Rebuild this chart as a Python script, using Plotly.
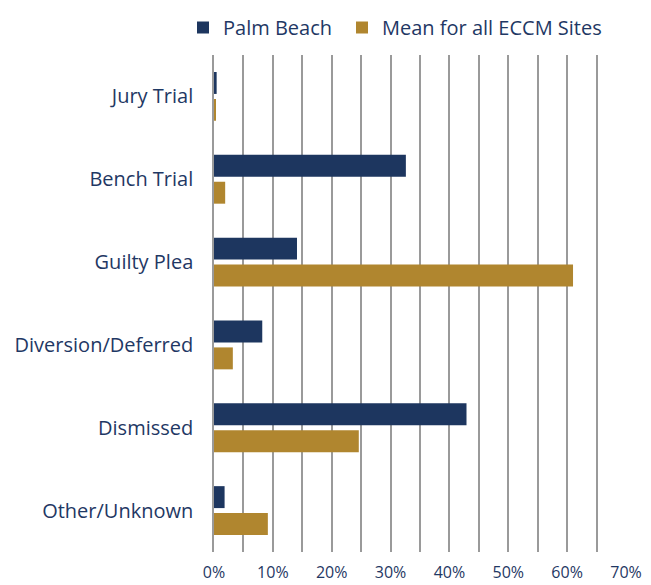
import plotly.graph_objects as go

# ── Data ──────────────────────────────────────────────────────────────────────
categories = ["Jury Trial", "Bench Trial", "Guilty Plea",
              "Diversion/Deferred", "Dismissed", "Other/Unknown"]
palm_beach = [0.45, 32.6, 14.1, 8.2, 42.9, 1.8]
eccm_mean  = [0.3, 1.9, 61.0, 3.2, 24.6, 9.15]

NAVY = "#1D365F"
GOLD = "#B0862F"
TEXT = "#1F3864"
GRID = "#9a9a9a"

# page body has an 8px margin, so the figure is 8px smaller than the window
W, H = 643, 577

# ── Plot ──────────────────────────────────────────────────────────────────────
fig = go.Figure()

fig.add_trace(go.Bar(
    y=categories, x=palm_beach, orientation="h",
    name="Palm Beach", marker=dict(color=NAVY, line=dict(width=0)),
    legend="legend",
))
fig.add_trace(go.Bar(
    y=categories, x=eccm_mean, orientation="h",
    name="Mean for all ECCM Sites", marker=dict(color=GOLD, line=dict(width=0)),
    legend="legend2",
))

leg = dict(
    orientation="h", xref="container", yref="container",
    y=1.0, xanchor="left", yanchor="top",
    font=dict(size=20), itemwidth=30,
)

fig.update_layout(
    width=W, height=H,
    margin=dict(l=206, r=25, t=47, b=33),
    barmode="group", bargap=0.35, bargroupgap=0.185,
    plot_bgcolor="white", paper_bgcolor="white",
    font=dict(family="Open Sans, sans-serif", color=TEXT, size=20),
    legend=dict(leg, x=175 / W),
    legend2=dict(leg, x=334 / W),
    xaxis=dict(
        range=[0, 70], dtick=10, ticksuffix="%", automargin=False,
        showgrid=True, gridcolor=GRID, gridwidth=1.5,
        minor=dict(dtick=5, showgrid=True, gridcolor=GRID, gridwidth=1.5),
        zeroline=False, showline=False, ticks="",
        tickfont=dict(size=16), ticklabelstandoff=9,
    ),
    yaxis=dict(
        autorange="reversed", showgrid=False, zeroline=False, automargin=False,
        showline=True, linecolor=GRID, linewidth=1.5,
        ticks="", ticklabelstandoff=15, tickfont=dict(size=20),
    ),
    showlegend=True,
)

fig.write_html("out.html")
